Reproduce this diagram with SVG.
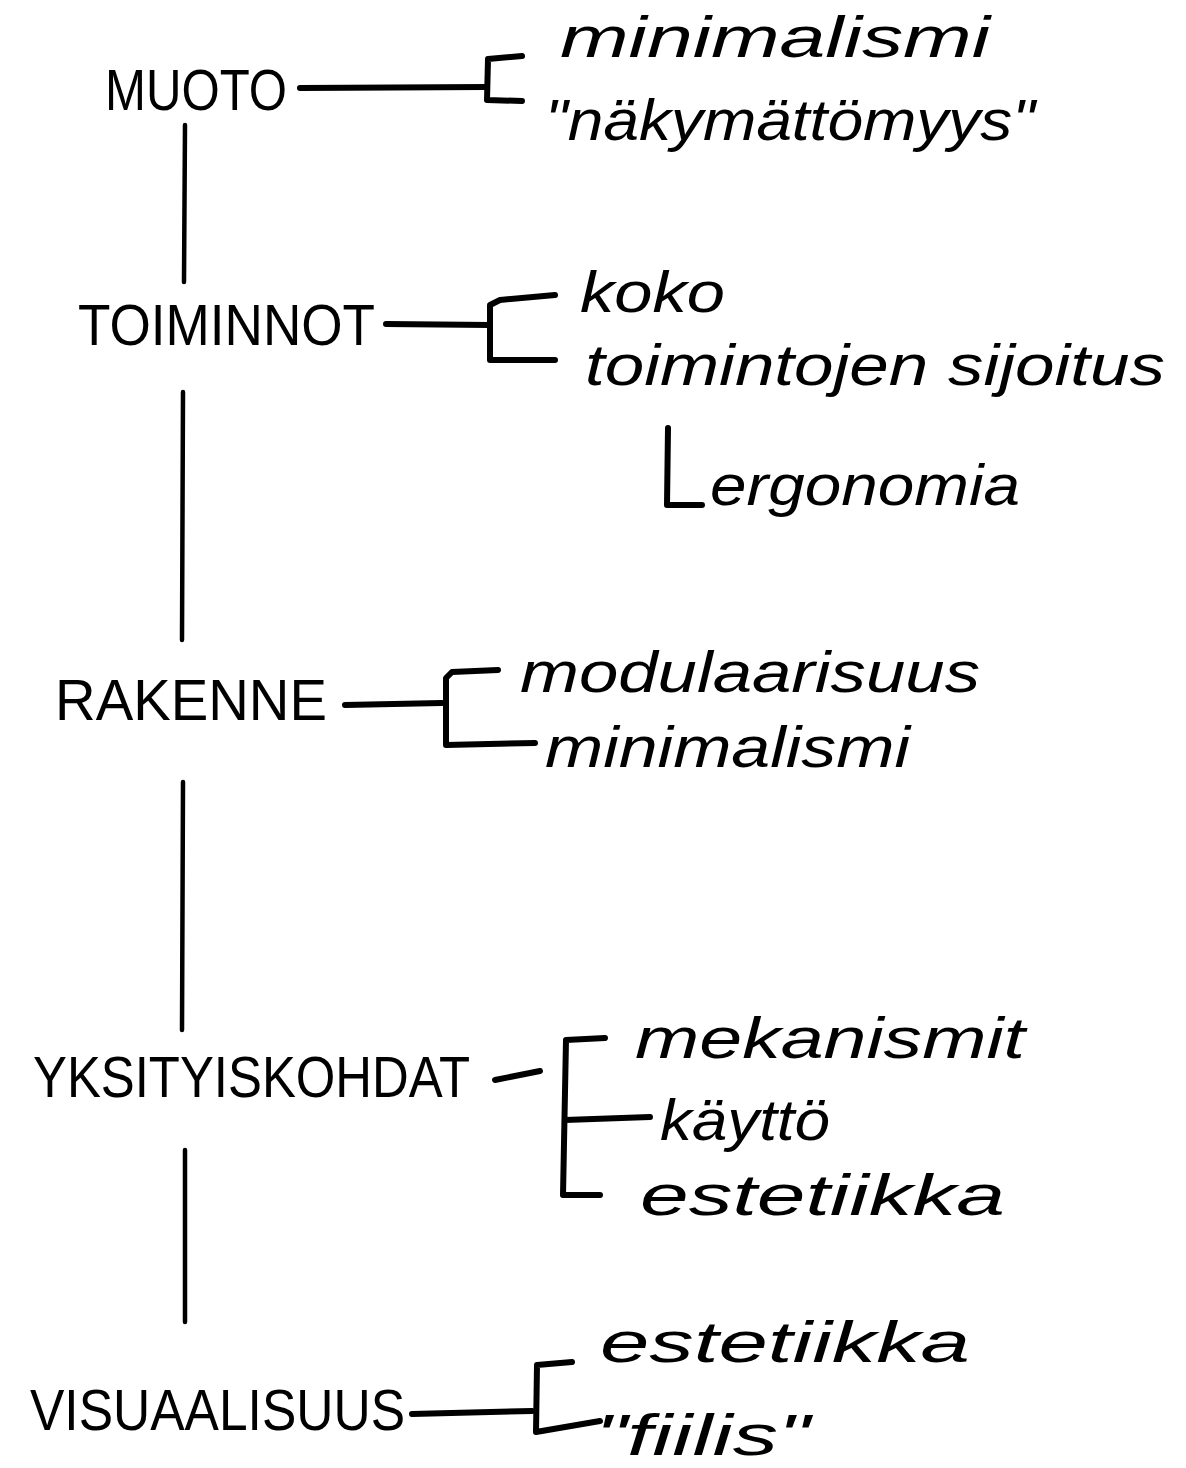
<svg xmlns="http://www.w3.org/2000/svg" width="1186" height="1468" viewBox="0 0 1186 1468">
<style>
.cap{font-family:"Liberation Sans","DejaVu Sans",sans-serif;font-size:58px;fill:#000}
.item{font-family:"Liberation Sans","DejaVu Sans",sans-serif;font-size:58px;fill:#000;font-style:italic}
.ln{stroke:#000;stroke-width:6;fill:none;stroke-linecap:round;stroke-linejoin:round}
.tr{stroke:#000;stroke-width:4.5;fill:none;stroke-linecap:round}
</style>
<rect width="1186" height="1468" fill="#fff"/>
<g id="connectors">
<line class="tr" x1="185" y1="125" x2="184" y2="282"/>
<line class="tr" x1="183" y1="392" x2="182" y2="640"/>
<line class="tr" x1="183" y1="782" x2="182" y2="1030"/>
<line class="tr" x1="185" y1="1150" x2="185" y2="1322"/>
<line class="ln" x1="300" y1="88" x2="487" y2="87"/>
<path class="ln" d="M522 56 L488 59 L487 100 L522 101"/>
<line class="ln" x1="386" y1="324" x2="490" y2="325"/>
<path class="ln" d="M555 295 L500 300 L490 305 L490 360 L555 360"/>
<path class="ln" d="M668 428 L667 505 L702 505"/>
<line class="ln" x1="345" y1="705" x2="442" y2="703"/>
<path class="ln" d="M498 670 L452 672 L446 678 L446 745 L535 743"/>
<path class="ln" d="M495 1080 L540 1071"/>
<path class="ln" d="M605 1038 L566 1040 L563 1195 L600 1195"/>
<line class="ln" x1="565" y1="1120" x2="650" y2="1117"/>
<line class="ln" x1="412" y1="1414" x2="532" y2="1411"/>
<path class="ln" d="M572 1362 L537 1365 L536 1432 L600 1421"/>
</g>
<g id="muoto"><text class="cap" x="105" y="110" textLength="182" lengthAdjust="spacingAndGlyphs">MUOTO</text></g>
<g id="muoto-1"><text class="item" x="560" y="57" textLength="430" lengthAdjust="spacingAndGlyphs">minimalismi</text></g>
<g id="muoto-2"><text class="item" x="545" y="140" textLength="490" lengthAdjust="spacingAndGlyphs">"näkymättömyys"</text></g>
<g id="toiminnot"><text class="cap" x="78" y="345" textLength="297" lengthAdjust="spacingAndGlyphs">TOIMINNOT</text></g>
<g id="toiminnot-1"><text class="item" x="580" y="312" textLength="145" lengthAdjust="spacingAndGlyphs">koko</text></g>
<g id="toiminnot-2"><text class="item" x="585" y="385" textLength="580" lengthAdjust="spacingAndGlyphs">toimintojen sijoitus</text></g>
<g id="toiminnot-2-1"><text class="item" x="710" y="505" textLength="310" lengthAdjust="spacingAndGlyphs">ergonomia</text></g>
<g id="rakenne"><text class="cap" x="55" y="720" textLength="272" lengthAdjust="spacingAndGlyphs">RAKENNE</text></g>
<g id="rakenne-1"><text class="item" x="520" y="692" textLength="460" lengthAdjust="spacingAndGlyphs">modulaarisuus</text></g>
<g id="rakenne-2"><text class="item" x="545" y="767" textLength="365" lengthAdjust="spacingAndGlyphs">minimalismi</text></g>
<g id="yksityiskohdat"><text class="cap" x="33" y="1097" textLength="437" lengthAdjust="spacingAndGlyphs">YKSITYISKOHDAT</text></g>
<g id="yksityiskohdat-1"><text class="item" x="635" y="1058" textLength="390" lengthAdjust="spacingAndGlyphs">mekanismit</text></g>
<g id="yksityiskohdat-2"><text class="item" x="660" y="1140" textLength="170" lengthAdjust="spacingAndGlyphs">käyttö</text></g>
<g id="yksityiskohdat-3"><text class="item" x="640" y="1215" textLength="365" lengthAdjust="spacingAndGlyphs">estetiikka</text></g>
<g id="visuaalisuus"><text class="cap" x="30" y="1430" textLength="375" lengthAdjust="spacingAndGlyphs">VISUAALISUUS</text></g>
<g id="visuaalisuus-1"><text class="item" x="600" y="1362" textLength="370" lengthAdjust="spacingAndGlyphs">estetiikka</text></g>
<g id="visuaalisuus-2"><text class="item" x="595" y="1455" textLength="215" lengthAdjust="spacingAndGlyphs">"fiilis"</text></g>
</svg>
